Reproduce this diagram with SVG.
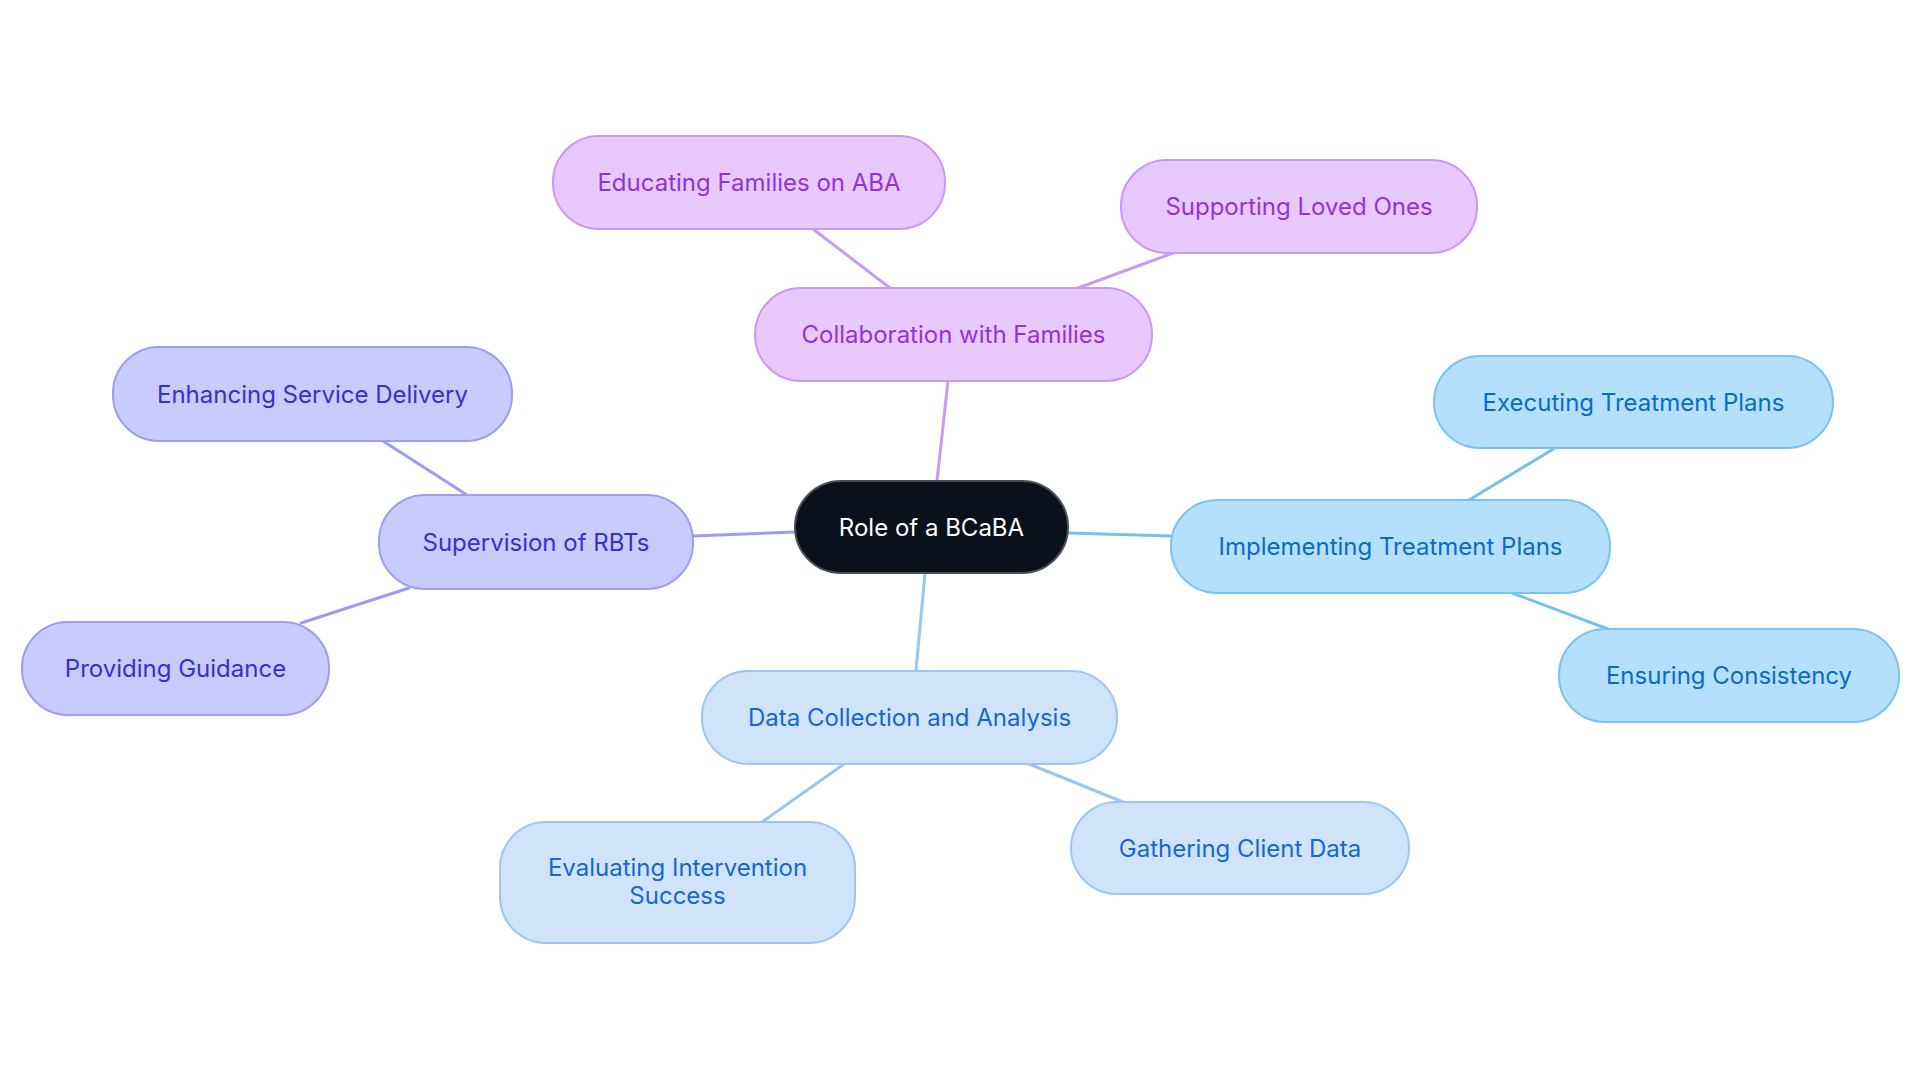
<svg xmlns="http://www.w3.org/2000/svg" width="1920" height="1083" viewBox="0 0 1920 1083">
<style>
text{font-family:"Inter","Noto Sans",sans-serif;font-size:24px;text-anchor:middle;dominant-baseline:central}
.c rect{fill:#0b111a;stroke:#4a4f57;stroke-width:2}
.c text{fill:#ffffff}
.p rect{fill:#e7c9fd;stroke:#cd97f3;stroke-width:2}
.p text{fill:#9332d9}
.i rect{fill:#c9cafd;stroke:#9c9df1;stroke-width:2}
.i text{fill:#3630cc}
.b rect{fill:#b5e0fd;stroke:#7cc2f0;stroke-width:2}
.b text{fill:#0b6bc1}
.d rect{fill:#cfe4fb;stroke:#9cc6f1;stroke-width:2}
.d text{fill:#1667cf}
.e line{stroke-width:3;stroke-linecap:round}
.ep{stroke:#c99bf3}.ei{stroke:#9c9df1}.eb{stroke:#77bff0}.ed{stroke:#9cc6f1}
.m{stroke-width:4}
</style>
<rect width="1920" height="1083" fill="#ffffff"/>
<g id="connectors" class="e">
<line class="ep m" x1="937" y1="481" x2="948" y2="381"/>
<line class="ep" x1="890" y1="288" x2="813" y2="229"/>
<line class="ep" x1="1078" y1="288" x2="1173" y2="253"/>
<line class="ei m" x1="795" y1="532" x2="693" y2="536"/>
<line class="ei" x1="467" y1="495" x2="383" y2="441"/>
<line class="ei" x1="409" y1="588" x2="301" y2="623"/>
<line class="eb m" x1="1068" y1="533" x2="1171" y2="536"/>
<line class="eb" x1="1469" y1="500" x2="1555" y2="448"/>
<line class="eb" x1="1512" y1="593" x2="1608" y2="629"/>
<line class="ed m" x1="925" y1="573" x2="916" y2="671"/>
<line class="ed" x1="844" y1="764" x2="762" y2="822"/>
<line class="ed" x1="1029" y1="764" x2="1123" y2="802"/>
</g>
<g id="center" class="c"><rect x="795" y="481" width="273" height="92" rx="46"/><text x="931.5" y="527">Role of a BCaBA</text></g>
<g id="collab" class="p"><rect x="755" y="288" width="397" height="93" rx="46"/><text x="953.5" y="334.5">Collaboration with Families</text></g>
<g id="educating" class="p"><rect x="553" y="136" width="392" height="93" rx="46"/><text x="749" y="182.5">Educating Families on ABA</text></g>
<g id="supporting" class="p"><rect x="1121" y="160" width="356" height="93" rx="46"/><text x="1299" y="206.5">Supporting Loved Ones</text></g>
<g id="supervision" class="i"><rect x="379" y="495" width="314" height="94" rx="46"/><text x="536" y="542">Supervision of RBTs</text></g>
<g id="enhancing" class="i"><rect x="113" y="347" width="399" height="94" rx="46"/><text x="312.5" y="394">Enhancing Service Delivery</text></g>
<g id="providing" class="i"><rect x="22" y="622" width="307" height="93" rx="46"/><text x="175.5" y="668.5">Providing Guidance</text></g>
<g id="implementing" class="b"><rect x="1171" y="500" width="439" height="93" rx="46"/><text x="1390.5" y="546.5">Implementing Treatment Plans</text></g>
<g id="executing" class="b"><rect x="1434" y="356" width="399" height="92" rx="46"/><text x="1633.5" y="402">Executing Treatment Plans</text></g>
<g id="ensuring" class="b"><rect x="1559" y="629" width="340" height="93" rx="46"/><text x="1729" y="675.5">Ensuring Consistency</text></g>
<g id="data" class="d"><rect x="702" y="671" width="415" height="93" rx="46"/><text x="909.5" y="717.5">Data Collection and Analysis</text></g>
<g id="evaluating" class="d"><rect x="500" y="822" width="355" height="121" rx="46"/><text x="677.5" y="867">Evaluating Intervention</text><text x="677.5" y="895">Success</text></g>
<g id="gathering" class="d"><rect x="1071" y="802" width="338" height="92" rx="46"/><text x="1240" y="848">Gathering Client Data</text></g>
</svg>
